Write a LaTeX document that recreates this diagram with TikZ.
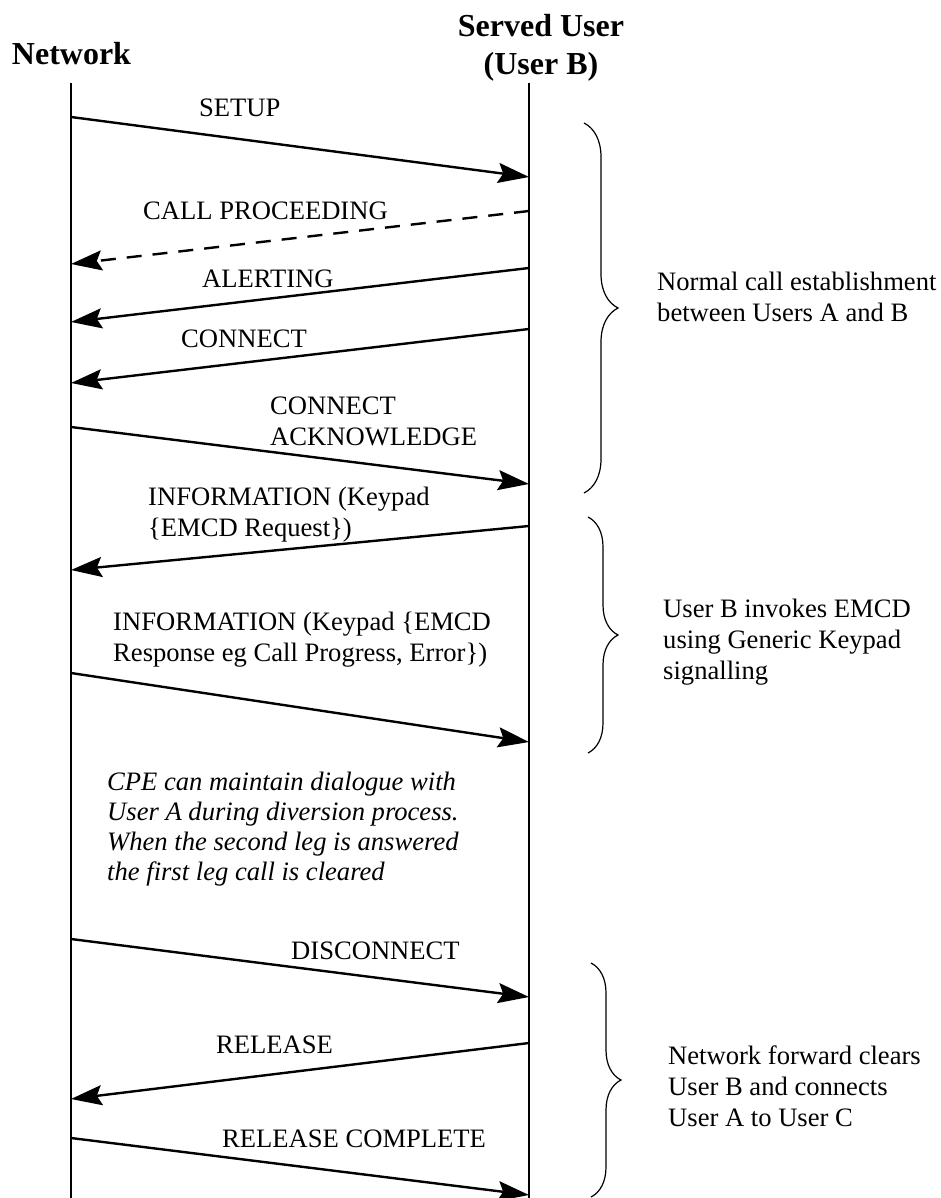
\documentclass[tikz,border=0pt]{standalone}
\usepackage{fontspec}
\setmainfont{Liberation Serif}
\usetikzlibrary{arrows.meta,decorations.pathreplacing}
\begin{document}
\begin{tikzpicture}[x=1pt,y=-1pt,
  lifeline/.style={line width=1.8pt},
  msg/.style={line width=2.4pt,-{Stealth[length=31pt,width=20pt,inset=5pt]}},
  dmsg/.style={msg,dash pattern=on 15pt off 11pt},
  lbl/.style={anchor=base west,inner sep=0pt,font=\fontsize{26.6}{31}\selectfont},
  ilbl/.style={lbl,font=\fontsize{26.6}{30}\selectfont\itshape},
  head/.style={anchor=base,inner sep=0pt,font=\fontsize{32}{38}\selectfont\bfseries},
  bracestyle/.style={line width=1.2pt,decorate,decoration={brace,amplitude=#1}}]
\useasboundingbox (0,0) rectangle (941,1198);

% headings
\node[head] (hnet) at (71.5,65) {Network};
\node[head] (hsu) at (541,37) {Served User};
\node[head] (hub) at (541,75) {(User B)};

% lifelines
\coordinate (Ltop) at (71,83);
\coordinate (Lbot) at (71,1198);
\coordinate (Rtop) at (529,83);
\coordinate (Rbot) at (529,1198);
\draw[lifeline] (Ltop) -- (Lbot);
\draw[lifeline] (Rtop) -- (Rbot);

% messages
\coordinate (m1s) at (71,117);   \coordinate (m1e) at (529,177);
\coordinate (m2s) at (529,211);  \coordinate (m2e) at (71,264);
\coordinate (m3s) at (529,268);  \coordinate (m3e) at (71,322);
\coordinate (m4s) at (529,329);  \coordinate (m4e) at (71,383);
\coordinate (m5s) at (71,427);   \coordinate (m5e) at (529,484);
\coordinate (m6s) at (529,526);  \coordinate (m6e) at (71,570);
\coordinate (m7s) at (71,673);   \coordinate (m7e) at (529,742);
\coordinate (m8s) at (71,939);   \coordinate (m8e) at (529,997);
\coordinate (m9s) at (529,1043); \coordinate (m9e) at (71,1099);
\coordinate (m10s) at (71,1138); \coordinate (m10e) at (529,1195);

\draw[msg] (m1s) -- (m1e);
\draw[dmsg] (m2s) -- (m2e);
\draw[msg] (m3s) -- (m3e);
\draw[msg] (m4s) -- (m4e);
\draw[msg] (m5s) -- (m5e);
\draw[msg] (m6s) -- (m6e);
\draw[msg] (m7s) -- (m7e);
\draw[msg] (m8s) -- (m8e);
\draw[msg] (m9s) -- (m9e);
\draw[msg] (m10s) -- (m10e);

% labels
\node[lbl] (t1) at (199,117) {SETUP};
\node[lbl] (t2) at (143,220) {CALL PROCEEDING};
\node[lbl] (t3) at (202,287) {ALERTING};
\node[lbl] (t4) at (181,347) {CONNECT};
\node[lbl] (t5) at (270,414) {\begin{tabular}[t]{@{}l@{}}CONNECT\\ACKNOWLEDGE\end{tabular}};
\node[lbl] (t6) at (148,505) {\begin{tabular}[t]{@{}l@{}}INFORMATION (Keypad\\\{EMCD Request\})\end{tabular}};
\node[lbl] (t7) at (113,630) {\begin{tabular}[t]{@{}l@{}}INFORMATION (Keypad \{EMCD\\Response eg Call Progress, Error\})\end{tabular}};
\node[ilbl] (note) at (107,790) {\begin{tabular}[t]{@{}l@{}}CPE can maintain dialogue with\\User A during diversion process.\\When the second leg is answered\\the first leg call is cleared\end{tabular}};
\node[lbl] (t8) at (291,959) {DISCONNECT};
\node[lbl] (t9) at (216,1053) {RELEASE};
\node[lbl] (t10) at (222,1147) {RELEASE COMPLETE};

% braces
\coordinate (b1s) at (584,123); \coordinate (b1e) at (584,493);
\coordinate (b2s) at (588,517); \coordinate (b2e) at (588,753);
\coordinate (b3s) at (591,963); \coordinate (b3e) at (591,1197);
\draw[bracestyle=34pt] (b1s) -- (b1e);
\draw[bracestyle=30pt] (b2s) -- (b2e);
\draw[bracestyle=30pt] (b3s) -- (b3e);

\node[lbl] (c1) at (657,290) {\begin{tabular}[t]{@{}l@{}}Normal call establishment\\between Users A and B\end{tabular}};
\node[lbl] (c2) at (663,617) {\begin{tabular}[t]{@{}l@{}}User B invokes EMCD\\using Generic Keypad\\signalling\end{tabular}};
\node[lbl] (c3) at (668,1064) {\begin{tabular}[t]{@{}l@{}}Network forward clears\\User B and connects\\User A to User C\end{tabular}};
\end{tikzpicture}
\end{document}
